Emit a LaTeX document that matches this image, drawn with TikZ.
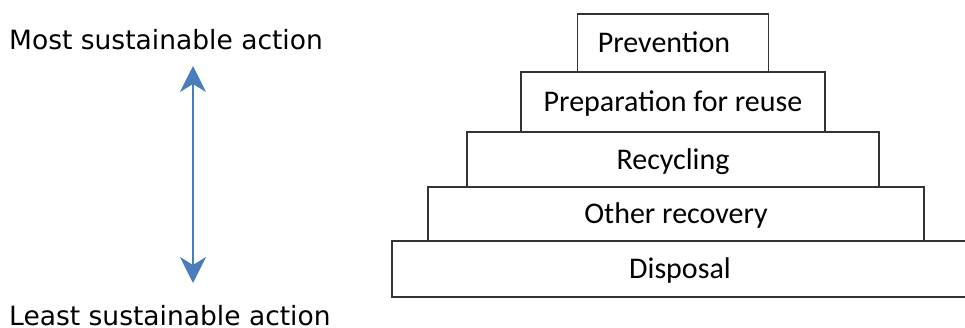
\documentclass[tikz,border=0pt]{standalone}
\usepackage{fontspec}
\setmainfont{DejaVu Sans}
\newfontfamily\tierfont{Carlito}
\usepackage{xcolor}
\usetikzlibrary{arrows.meta, positioning}
\definecolor{arrowblue}{RGB}{74,126,187}

\begin{document}
\begin{tikzpicture}[x=1pt, y=1pt, % one unit per pixel
		node distance=0pt,
		tier/.style={rectangle, draw=black!80, line width=1.8pt, inner sep=0pt, outer sep=0pt, text height=19pt, text depth=0pt, font=\tierfont\fontsize{30}{36}\selectfont},
		sidetext/.style={inner sep=0pt, font=\fontsize{26.5}{32}\selectfont},
		arrow/.style={<->, >={Stealth[length=26pt, width=26pt, inset=8pt]}, line width=2pt, draw=arrowblue}
		]
		\useasboundingbox (0,0) rectangle (965,327);
		
		% Pyramid, from the bottom step up
		\node[tier, minimum width=590pt, minimum height=56pt, anchor=south west] (disposal) at (392,30) {Disposal\kern14pt};
		\node[tier, minimum width=496pt, minimum height=54pt, above right=0pt and 36pt of disposal.north west] (recovery) {Other recovery};
		\node[tier, minimum width=412pt, minimum height=55pt, above=of recovery, xshift=-3pt] (recycling) {Recycling};
		\node[tier, minimum width=304pt, minimum height=60pt, above=of recycling] (reuse) {Preparation for reuse};
		\node[tier, minimum width=191pt, minimum height=58pt, above=of reuse] (prevention) {Prevention\kern18pt};
		
		% Scale on the left
		\node[sidetext, anchor=base west] (most) at (9,277) {Most sustainable action};
		\node[sidetext, anchor=base west] (least) at (9,2) {Least sustainable action};
		\coordinate (high) at (193,261);
		\coordinate (low) at (193,44);
		\draw[arrow] (low) -- (high);
		
	\end{tikzpicture}
\end{document}
